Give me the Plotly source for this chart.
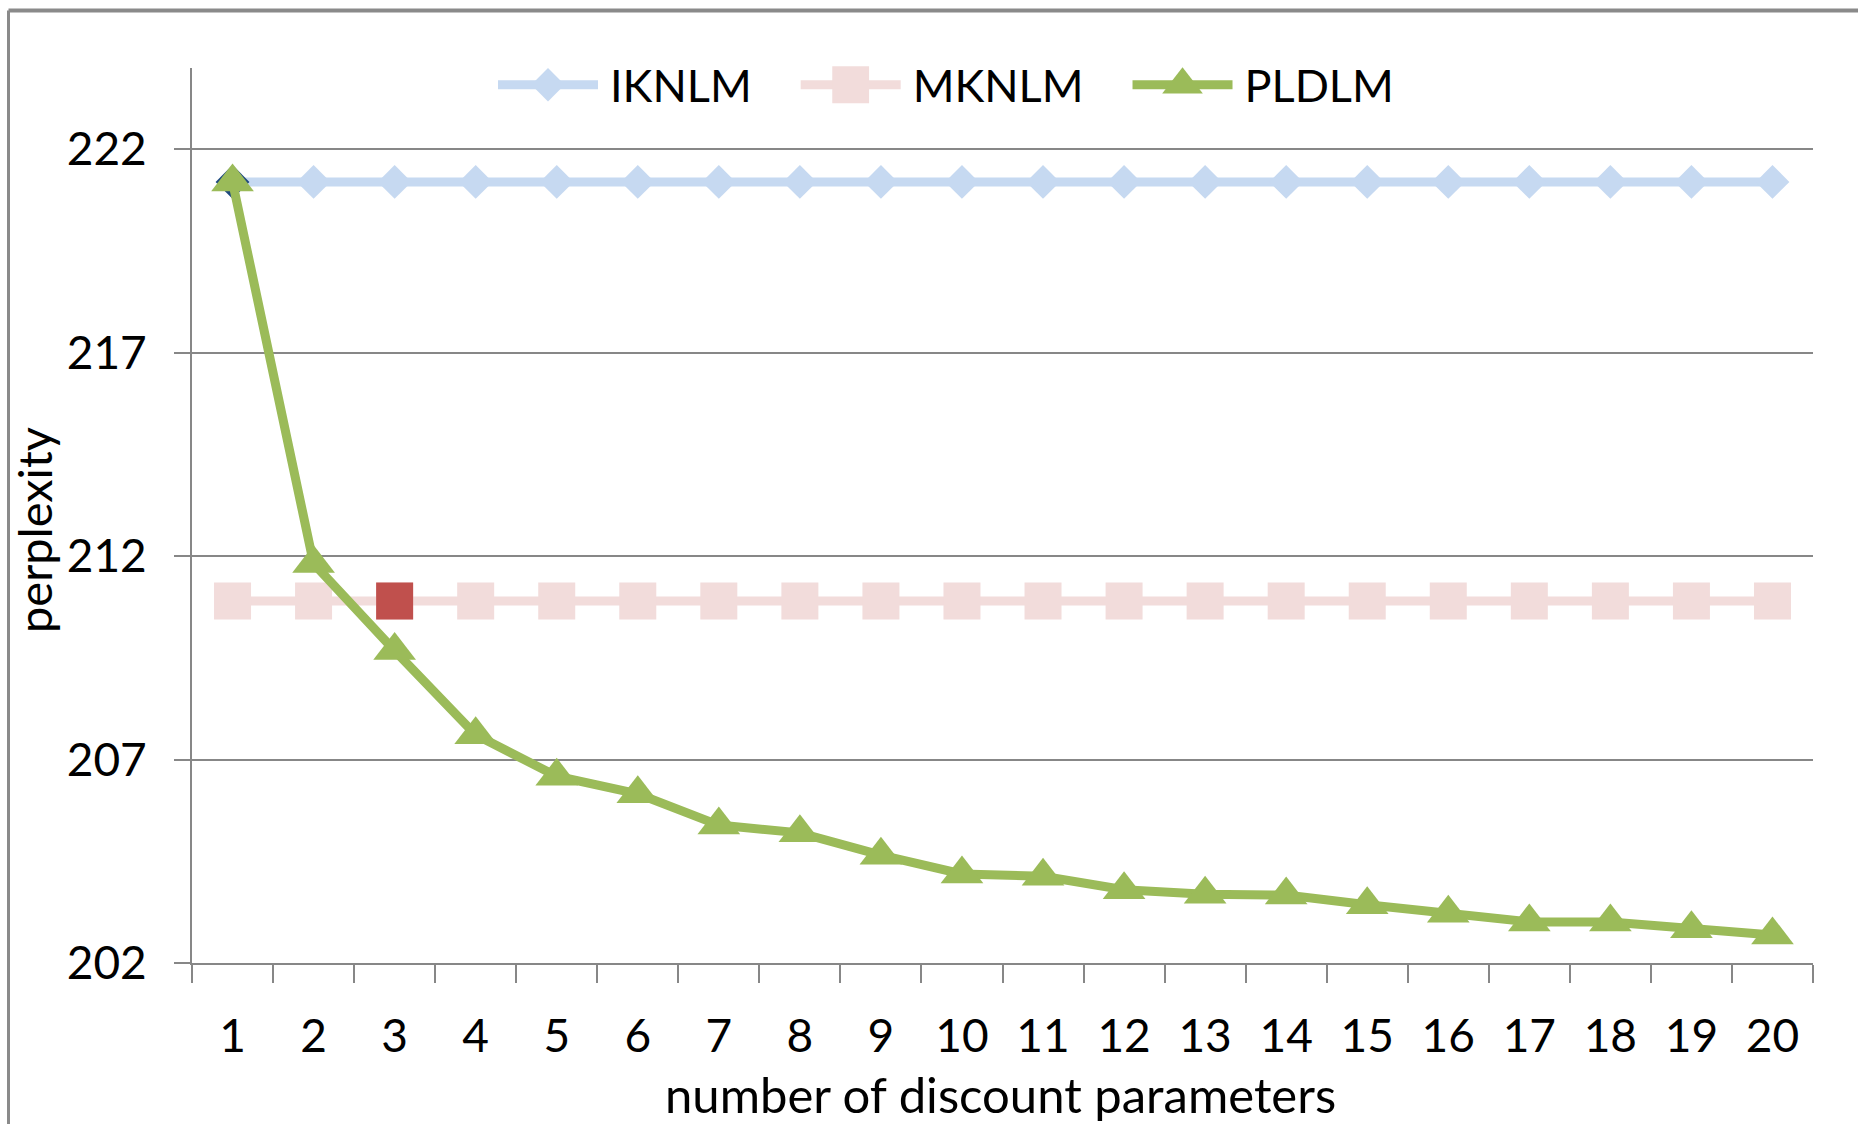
import plotly.graph_objects as go

categories = [str(i) for i in range(1, 21)]
iknlm = [221.2] * 20
mknlm = [210.9] * 20
pldlm = [221.2, 211.82, 209.68, 207.61, 206.59, 206.16, 205.39, 205.20, 204.65, 204.19,
         204.13, 203.80, 203.69, 203.67, 203.43, 203.22, 203.01, 203.01, 202.84, 202.69]
ytick_vals = [202, 207, 212, 217, 222]
highlight_iknlm = 0   # index of emphasised IKNLM point
highlight_mknlm = 2   # index of emphasised MKNLM point

FONT = "Lato"
GRID = "#878787"
W, H = 1858, 1124
L, R, T, B = 192, 45, 68, 161
pw = W - L - R
ph = H - T - B
LEG_ITEMW = 146


def px_x(px):
    return (px - L) / pw


def px_y(py):
    return (H - B - py) / ph


fig = go.Figure()
fig.add_trace(go.Scatter(
    x=categories, y=iknlm, name="IKNLM", mode="lines+markers",
    line=dict(color="#C6D9F1", width=9),
    marker=dict(symbol="diamond", size=26, color="#C6D9F1"),
))
fig.add_trace(go.Scatter(
    x=[categories[highlight_iknlm]], y=[iknlm[highlight_iknlm]], mode="markers",
    showlegend=False, marker=dict(symbol="diamond", size=26, color="#1F497D"),
))
fig.add_trace(go.Scatter(
    x=categories, y=mknlm, name="MKNLM", mode="lines+markers",
    line=dict(color="#F2DCDB", width=9),
    marker=dict(symbol="square", size=37, color="#F2DCDB"),
))
fig.add_trace(go.Scatter(
    x=[categories[highlight_mknlm]], y=[mknlm[highlight_mknlm]], mode="markers",
    showlegend=False, marker=dict(symbol="square", size=37, color="#C0504D"),
))
fig.add_trace(go.Scatter(
    x=categories, y=pldlm, name="PLDLM", mode="lines+markers",
    line=dict(color="#9BBB59", width=9),
    marker=dict(symbol="triangle-up", size=37, color="#9BBB59"),
))

fig.update_layout(
    width=W, height=H,
    margin=dict(l=L, r=R, t=T, b=B, pad=0),
    paper_bgcolor="white", plot_bgcolor="white",
    font=dict(family=FONT, size=46, color="#000000"),
    showlegend=True,
    legend=dict(
        orientation="h", x=px_x(610 - LEG_ITEMW - 10), xanchor="left",
        y=px_y(85), yanchor="middle",
        bgcolor="rgba(0,0,0,0)", font=dict(size=45),
        itemwidth=LEG_ITEMW,
    ),
    xaxis=dict(
        type="category", categoryorder="array", categoryarray=categories,
        range=[-0.5, len(categories) - 0.5],
        tickson="boundaries", ticks="outside", ticklen=18, tickwidth=2, tickcolor=GRID,
        showline=True, linecolor=GRID, linewidth=2, showgrid=False, zeroline=False,
        tickfont=dict(size=46), ticklabelstandoff=32,
        automargin=False,
    ),
    yaxis=dict(
        range=[202, 224], tickvals=ytick_vals, ticktext=[str(v) for v in ytick_vals],
        ticks="outside", ticklen=16, tickwidth=2, tickcolor=GRID,
        showline=True, linecolor=GRID, linewidth=2,
        showgrid=True, gridcolor=GRID, gridwidth=2, zeroline=False,
        tickfont=dict(size=46), ticklabelstandoff=18,
        automargin=False,
    ),
    annotations=[
        dict(text="number of discount parameters", xref="paper", yref="paper",
             x=px_x(1000), y=px_y(1094), xanchor="center", yanchor="middle",
             showarrow=False, font=dict(size=49)),
        dict(text="perplexity", xref="paper", yref="paper", textangle=-90,
             x=px_x(34), y=px_y(530), xanchor="center", yanchor="middle",
             showarrow=False, font=dict(size=47)),
    ],
    shapes=[
        dict(type="line", xref="paper", yref="paper",
             x0=px_x(8.5), x1=px_x(8.5), y0=px_y(10.5), y1=px_y(1200),
             line=dict(color="#8A8A8A", width=3)),
        dict(type="line", xref="paper", yref="paper",
             x0=px_x(8.5), x1=px_x(1900), y0=px_y(10.5), y1=px_y(10.5),
             line=dict(color="#8A8A8A", width=4)),
    ],
)

# Legend keys drawn like the original: a long line segment with a full-size
# marker in its middle, ending just before the entry's label.
post_js = """
var gd = document.getElementById('{plot_id}');
(function () {
  var itemw = %d;
  var textx = itemw + 10;
  var lineEnd = textx - 12, lineLen = 100, mid = lineEnd - lineLen / 2;
  var sb = gd.querySelector('.legend .scrollbox');
  if (sb) { sb.removeAttribute('clip-path'); }
  var scales = [1.6, 2.3, 2.2];
  gd.querySelectorAll('.legend .traces').forEach(function (tr, i) {
    var ln = tr.querySelector('.js-line');
    if (ln) { ln.setAttribute('d', 'M' + (lineEnd - lineLen) + ',0h' + lineLen); }
    tr.querySelectorAll('g.legendpoints path.scatterpts').forEach(function (p) {
      p.setAttribute('transform', 'translate(' + mid + ',0) scale(' + scales[i] + ')');
    });
  });
})();
""" % LEG_ITEMW

fig.write_html("out.html", post_script=post_js)
